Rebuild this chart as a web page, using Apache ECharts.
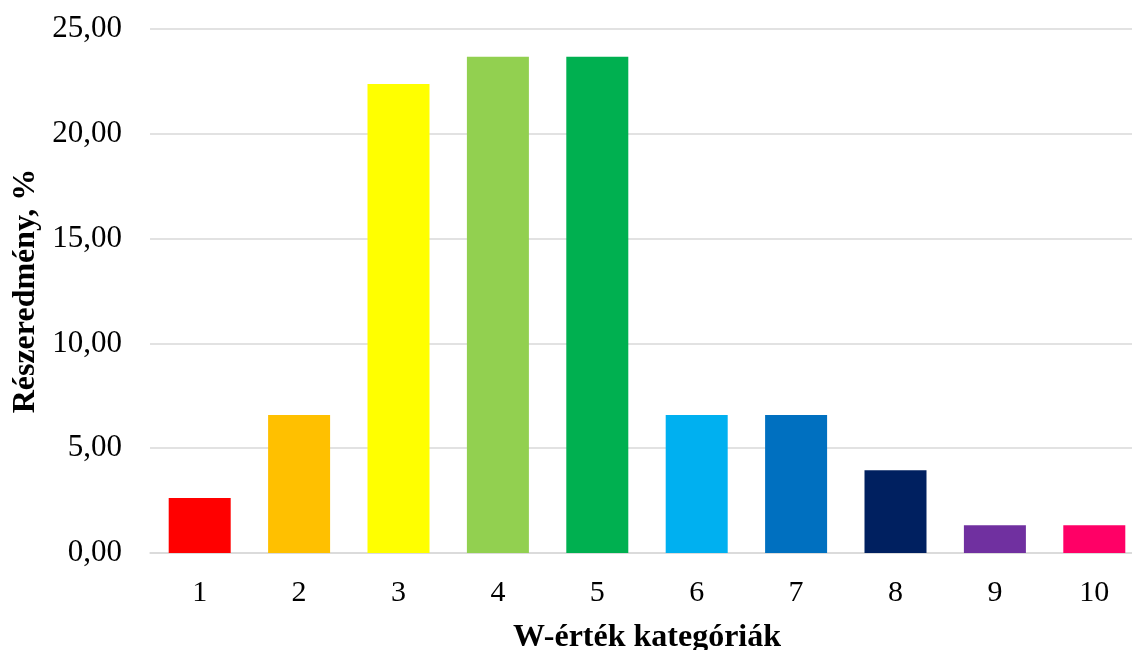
<!DOCTYPE html>
<html>
<head>
<meta charset="utf-8">
<script src="https://cdn.jsdelivr.net/npm/echarts@6/dist/echarts.min.js"></script>
<style>
  html, body { margin: 0; padding: 0; background: #fff; }
  #chart { width: 1132px; height: 650px; }
</style>
</head>
<body>
<div id="chart"></div>
<script>
// W-value categories and their share (%)
const categories = ['1', '2', '3', '4', '5', '6', '7', '8', '9', '10'];
const shares = [2.63, 6.58, 22.37, 23.68, 23.68, 6.58, 6.58, 3.95, 1.32, 1.32];
const barColors = ['#FF0000', '#FFC000', '#FFFF00', '#92D050', '#00B050',
                   '#00B0F0', '#0070C0', '#002060', '#7030A0', '#FF0066'];
const yTicks = [0, 5, 10, 15, 20, 25];

const serif = '"Liberation Serif", "Times New Roman", serif';
const chart = echarts.init(document.getElementById('chart'));

chart.setOption({
  animation: false,
  grid: { left: 150, top: 29, width: 994, height: 524, outerBoundsMode: 'none' },
  xAxis: {
    type: 'category',
    data: categories,
    name: 'W-érték kategóriák',
    nameLocation: 'middle',
    nameGap: 69,
    nameTextStyle: { fontFamily: serif, fontSize: 32, fontWeight: 'bold', color: '#000' },
    axisLine: { lineStyle: { color: '#d9d9d9', width: 1.5 } },
    axisTick: { show: false },
    axisLabel: { fontFamily: serif, fontSize: 30, color: '#000', margin: 25 }
  },
  yAxis: {
    type: 'value',
    min: yTicks[0],
    max: yTicks[yTicks.length - 1],
    interval: 5,
    name: 'Részeredmény, %',
    nameLocation: 'middle',
    nameGap: 106,
    nameTextStyle: { fontFamily: serif, fontSize: 32, fontWeight: 'bold', color: '#000' },
    axisLine: { show: false },
    axisTick: { show: false },
    axisLabel: {
      fontFamily: serif, fontSize: 31, color: '#000', margin: 28,
      formatter: v => v.toFixed(2).replace('.', ',')
    },
    splitLine: { lineStyle: { color: '#d9d9d9', width: 1.5 } }
  },
  series: [{
    type: 'bar',
    barWidth: 62,
    data: shares.map((v, i) => ({ value: v, itemStyle: { color: barColors[i] } }))
  }]
});
</script>
</body>
</html>
